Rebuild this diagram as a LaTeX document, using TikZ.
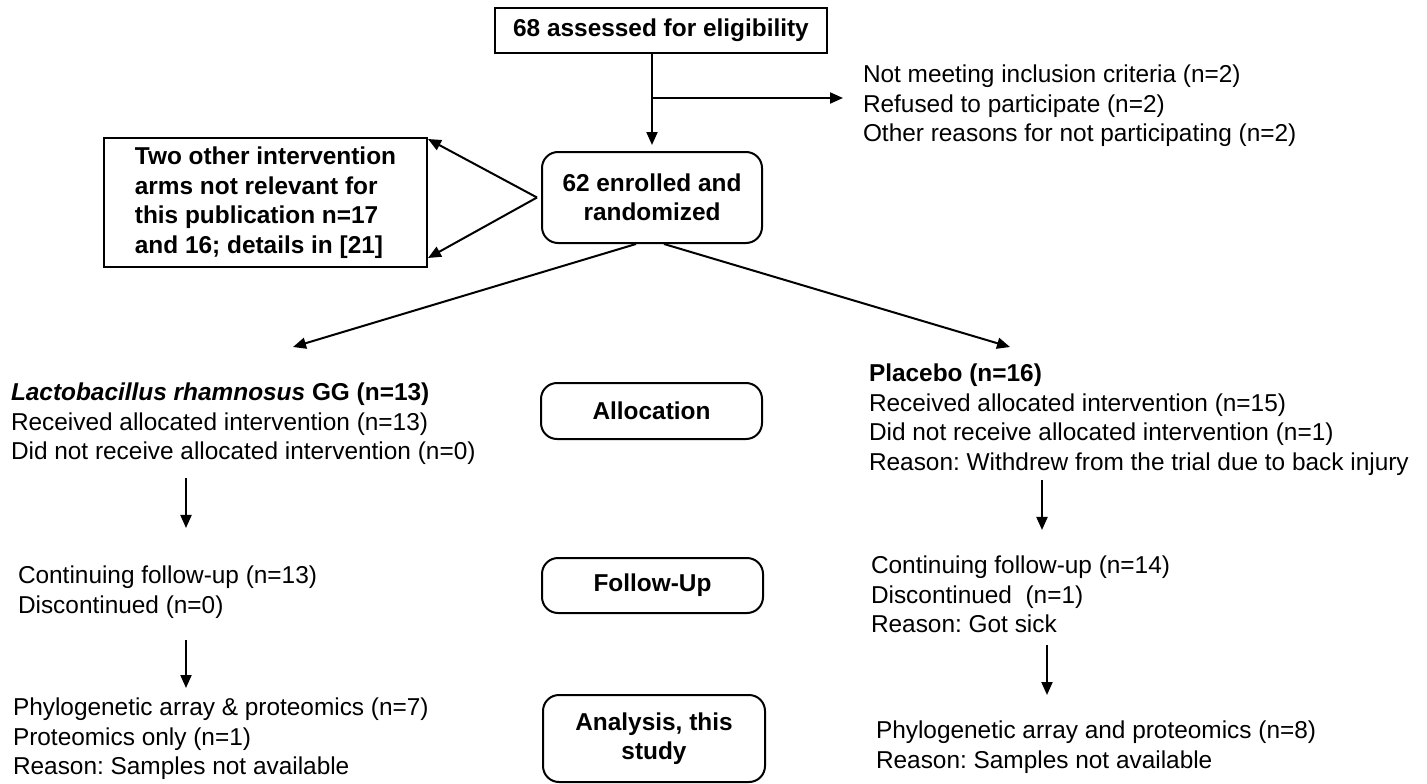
\documentclass[tikz,border=0pt]{standalone}
\usepackage{fontspec}
\setmainfont{Liberation Sans}
\frenchspacing
\usetikzlibrary{
  arrows.meta,
  chains,
  positioning,
  scopes
}

\begin{document}
\begin{tikzpicture}[
      x=1pt,y=-1pt,
      font=\fontsize{24.4}{29.5}\selectfont,
      box/.style={
         rectangle,
         line width=2pt,
         draw=black,
         font=\fontsize{24.4}{29.5}\selectfont\bfseries,
         align=center,
         inner sep=0pt
      },
      round box/.style={
         box,
         rounded corners=16pt
      },
      plain/.style={
         anchor=north west,
         align=left,
         inner sep=0pt
      },
      point/.style={coordinate},>={Triangle[length=13pt,width=11pt]},line width=2pt,
      tip/.style={->,shorten >=0.007pt},every join/.style={line width=2pt},
    ]
    \useasboundingbox (0,0) rectangle (1427,784);
    % enrolment
    \node (n11) [box, minimum width=332pt, minimum height=45pt] at (661,30.5) {68 assessed for eligibility};
    \node (n12) [point] at (652,98) {};
    \node (n10) [point] at (n11.south -| n12) {};
    \node (n14) [point] at (843,98) {};
    \node (n13) [plain] at (862,64) {Not meeting inclusion criteria (n=2)\\Refused to participate (n=2)\\Other reasons for not participating (n=2)};
    \node (n22) [round box, minimum width=220pt, minimum height=91pt] at (652,197.5) {62 enrolled and\\randomized};
    \node (n21) [box, align=left, minimum width=323pt, minimum height=129pt] at (265.5,202.5) {Two other intervention\\arms not relevant for\\this publication n=17\\and 16; details in [21]};
    \node (n23) [point] at ([xshift=-4pt]n22.west) {};
    \node (n24) [point] at ([yshift=-2pt]n21.north east) {};
    \node (n25) [point] at ([yshift=10pt]n21.south east) {};
    \node (n26) [point] at ([xshift=-16pt]n22.south) {};
    \node (n27) [point] at ([xshift=12pt]n22.south) {};
    \node (n28) [point] at (293,347) {};
    \node (n29) [point] at (1010,347) {};
    % allocation
    \node (n31) [plain] at (10,382) {\textbf{\textit{Lactobacillus rhamnosus} GG (n=13)}\\Received allocated intervention (n=13)\\Did not receive allocated intervention (n=0)};
    \node (n32) [round box, minimum width=221pt, minimum height=56pt] at (651.5,411) {Allocation};
    \node (n33) [plain] at (868,363) {\textbf{Placebo (n=16)}\\Received allocated intervention (n=15)\\Did not receive allocated intervention (n=1)\\Reason: Withdrew from the trial due to back injury};
    \node (n34) [point] at (186,478) {};
    \node (n35) [point] at (186,528) {};
    \node (n36) [point] at (1042,480) {};
    \node (n37) [point] at (1042,530) {};
    % follow-up
    \node (n41) [plain] at (17,565) {Continuing follow-up (n=13)\\Discontinued (n=0)};
    \node (n42) [round box, minimum width=221pt, minimum height=55pt] at (652.5,585.5) {Follow-Up};
    \node (n43) [plain] at (870,555) {Continuing follow-up (n=14)\\Discontinued\ \ (n=1)\\Reason: Got sick};
    \node (n44) [point] at (186,640) {};
    \node (n45) [point] at (186,688) {};
    \node (n46) [point] at (1047,645) {};
    \node (n47) [point] at (1047,695) {};
    % analysis
    \node (n51) [plain] at (12,697) {Phylogenetic array \& proteomics (n=7)\\Proteomics only (n=1)\\Reason: Samples not available};
    \node (n52) [round box, minimum width=222pt, minimum height=87pt] at (654,738.5) {Analysis, this\\study};
    \node (n53) [plain] at (875,720) {Phylogenetic array and proteomics (n=8)\\Reason: Samples not available};
  { [start chain]
       \chainin (n10);
       \chainin (n12)    [join];
  }
  { [start chain]
       \chainin (n12);
       \chainin (n22)    [join=by {tip,shorten >=6pt}];
  }
  { [start chain]
       \chainin (n12);
       \chainin (n14)    [join=by tip];
  }
  { [start chain]
       \chainin (n23);
       \chainin (n24)    [join=by tip];
  }
  { [start chain]
       \chainin (n23);
       \chainin (n25)    [join=by tip];
  }
  { [start chain]
       \chainin (n26);
       \chainin (n28)    [join=by tip];
  }
  { [start chain]
       \chainin (n27);
       \chainin (n29)    [join=by tip];
  }
  { [start chain]
       \chainin (n34);
       \chainin (n35)    [join=by tip];
  }
  { [start chain]
       \chainin (n36);
       \chainin (n37)    [join=by tip];
  }
  { [start chain]
       \chainin (n44);
       \chainin (n45)    [join=by tip];
  }
  { [start chain]
       \chainin (n46);
       \chainin (n47)    [join=by tip];
  }
\end{tikzpicture}
\end{document}
